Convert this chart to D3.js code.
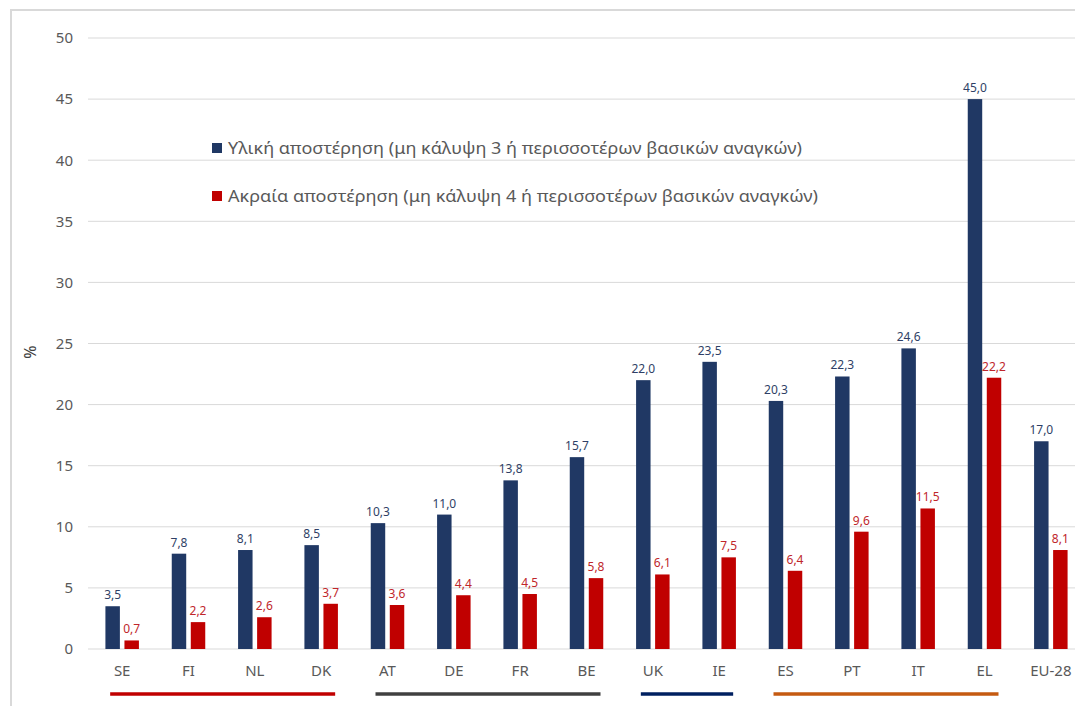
<!DOCTYPE html>
<html>
<head>
<meta charset="utf-8">
<script src="https://cdn.jsdelivr.net/npm/d3@7"></script>
<style>
  html, body { margin: 0; padding: 0; background: #fff; }
  svg { display: block; font-family: "Noto Sans", "Open Sans", sans-serif; }
</style>
</head>
<body>
<svg id="chart" width="1075" height="706"></svg>
<script>
const categories = ["SE", "FI", "NL", "DK", "AT", "DE", "FR", "BE", "UK", "IE", "ES", "PT", "IT", "EL", "EU-28"];
const materialDeprivation = [3.5, 7.8, 8.1, 8.5, 10.3, 11.0, 13.8, 15.7, 22.0, 23.5, 20.3, 22.3, 24.6, 45.0, 17.0];
const severeDeprivation = [0.7, 2.2, 2.6, 3.7, 3.6, 4.4, 4.5, 5.8, 6.1, 7.5, 6.4, 9.6, 11.5, 22.2, 8.1];
const seriesNames = [
  "Υλική αποστέρηση (μη κάλυψη 3 ή περισσοτέρων βασικών αναγκών)",
  "Ακραία αποστέρηση (μη κάλυψη 4 ή περισσοτέρων βασικών αναγκών)"
];
const yTicks = [0, 5, 10, 15, 20, 25, 30, 35, 40, 45, 50];
const groupStarts = ["SE", "AT", "UK", "ES"];
const groupEnds = ["DK", "BE", "IE", "EL"];
const groupColors = ["#c00000", "#404040", "#002060", "#c55a11"];

const barColors = ["#203864", "#c00000"];
const labelColors = ["#2f3f66", "#c0262b"];

const svg = d3.select("#chart");

// frame
svg.append("path")
  .attr("d", "M11,706 L11,10 L1075,10")
  .attr("fill", "none").attr("stroke", "#d9d9d9").attr("stroke-width", 2);

const x = d3.scaleBand().domain(categories).range([89, 1084])
  .paddingInner(0.495).paddingOuter(0.2475);
const x1 = d3.scaleBand().domain([0, 1]).range([0, x.bandwidth()]).paddingInner(0.24);
const y = d3.scaleLinear().domain([0, 50]).range([649, 38]);

// gridlines
svg.append("g").selectAll("line").data(yTicks).join("line")
  .attr("x1", 88).attr("x2", 1084)
  .attr("y1", d => y(d)).attr("y2", d => y(d))
  .attr("stroke", "#d9d9d9").attr("stroke-width", 1);

// y axis labels
const yAxis = d3.axisLeft(y).tickValues(yTicks).tickSize(0).tickPadding(0);
const yg = svg.append("g").attr("transform", "translate(73,0)").call(yAxis);
yg.select(".domain").remove();
yg.selectAll("text").attr("font-size", 15).attr("fill", "#595959")
  .attr("font-family", "Noto Sans, sans-serif");

// y title
svg.append("text").attr("transform", `translate(36,${352}) rotate(-90)`)
  .attr("text-anchor", "middle").attr("font-size", 16).attr("fill", "#404040").text("%");

// x axis labels
const xAxis = d3.axisBottom(x).tickSize(0).tickPadding(0);
const xg = svg.append("g").attr("transform", "translate(0,665)").call(xAxis);
xg.select(".domain").remove();
xg.selectAll("text").attr("font-size", 15).attr("fill", "#595959")
  .attr("font-family", "Noto Sans, sans-serif").attr("dy", "0.71em");

const fmt = v => d3.format(".1f")(v).replace(".", ",");

const rows = categories.map((c, i) => ({ c, vals: [materialDeprivation[i], severeDeprivation[i]] }));

const grp = svg.append("g").selectAll("g").data(rows).join("g")
  .attr("transform", d => `translate(${x(d.c)},0)`);

grp.selectAll("rect").data(d => d.vals.map((v, k) => ({ v, k }))).join("rect")
  .attr("x", d => x1(d.k)).attr("width", x1.bandwidth())
  .attr("y", d => y(d.v)).attr("height", d => y(0) - y(d.v))
  .attr("fill", d => barColors[d.k]);

grp.selectAll("text").data(d => d.vals.map((v, k) => ({ v, k }))).join("text")
  .attr("x", d => x1(d.k) + x1.bandwidth() / 2)
  .attr("y", d => y(d.v) - 7)
  .attr("text-anchor", "middle").attr("font-size", 12)
  .attr("fill", d => labelColors[d.k]).text(d => fmt(d.v));

// group underlines
svg.append("g").selectAll("line").data(groupStarts).join("line")
  .attr("x1", (d, i) => x(d) + x.bandwidth() / 2 - 12)
  .attr("x2", (d, i) => x(groupEnds[i]) + x.bandwidth() / 2 + 14)
  .attr("y1", 694).attr("y2", 694)
  .attr("stroke", (d, i) => groupColors[i]).attr("stroke-width", 3.5);

// legend
const legendY = [148, 196];
const targetW = [574, 590];
const lg = svg.append("g").selectAll("g").data(seriesNames).join("g");
lg.append("rect").attr("x", 212).attr("y", (d, i) => legendY[i] - 5)
  .attr("width", 10).attr("height", 10).attr("fill", (d, i) => barColors[i]);
lg.append("text").attr("x", 228).attr("y", (d, i) => legendY[i])
  .attr("dy", "0.35em").attr("font-size", 15).attr("fill", "#595959")
  .text(d => d)
  .each(function(d, i) {
    const w = this.getComputedTextLength();
    const fs = Math.max(13, Math.min(17, 15 * targetW[i] / w));
    d3.select(this).attr("font-size", fs);
    const w2 = this.getComputedTextLength();
    if (Math.abs(w2 - targetW[i]) > 4) {
      d3.select(this).attr("textLength", targetW[i]).attr("lengthAdjust", "spacingAndGlyphs");
    }
  });
</script>
</body>
</html>
